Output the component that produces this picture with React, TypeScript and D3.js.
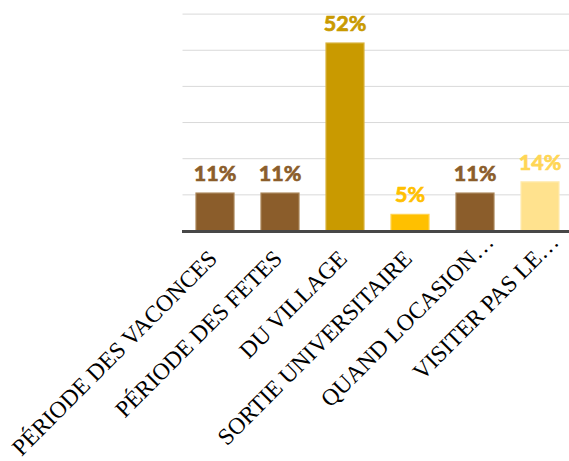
import React from "react";
import * as d3 from "d3";

const categories = [
  "PÉRIODE DES VACONCES",
  "PÉRIODE DES FETES",
  "DU VILLAGE",
  "SORTIE UNIVERSITAIRE",
  "QUAND LOCASION…",
  "VISITER PAS LE…",
];
const values = [0.105, 0.105, 0.52, 0.046, 0.105, 0.136];
const valueLabels = ["11%", "11%", "52%", "5%", "11%", "14%"];
const barColors = ["#8B5D2B", "#8B5D2B", "#C99A00", "#FFC000", "#8B5D2B", "#FFE28E"];
const barStrokes = ["#A98457", "#A98457", "#D9B33D", "#FFD34F", "#A98457", "#FFEBB0"];
const labelColors = ["#8B5D2B", "#8B5D2B", "#C99A00", "#FFC000", "#8B5D2B", "#FFD655"];
const yTicks = [0, 0.1, 0.2, 0.3, 0.4, 0.5, 0.6];

const W = 569;
const H = 461;

export default function App() {
  const x = d3
    .scaleBand<number>()
    .domain(d3.range(categories.length))
    .range([182.5, 572.5])
    .paddingInner(0.4)
    .paddingOuter(0.2);
  const y = d3.scaleLinear().domain([0, 0.6]).range([231, 14.1]);

  return (
    <svg
      width={W}
      height={H}
      style={{ position: "absolute", left: 0, top: 0, display: "block" }}
    >
      <rect x={0} y={0} width={W} height={H} fill="#ffffff" />
      {yTicks.slice(1).map((t) => (
        <line
          key={t}
          x1={182.5}
          x2={575}
          y1={y(t)}
          y2={y(t)}
          stroke="#D9D9D9"
          strokeWidth={1}
        />
      ))}
      {values.map((v, i) => (
        <rect
          key={i}
          x={x(i)! + 0.5}
          y={y(v)}
          width={x.bandwidth() - 1}
          height={y(0) - y(v)}
          fill={barColors[i]}
          stroke={barStrokes[i]}
          strokeWidth={1.2}
        />
      ))}
      <line
        x1={182}
        x2={575}
        y1={y(0) + 0.5}
        y2={y(0) + 0.5}
        stroke="#474747"
        strokeWidth={2.8}
      />
      {values.map((v, i) => (
        <text
          key={i}
          x={x(i)! + x.bandwidth() / 2}
          y={y(v) - 12}
          textAnchor="middle"
          fontFamily="Lato, 'Open Sans', sans-serif"
          fontWeight="bold"
          fontSize={21.5}
          fill={labelColors[i]}
          stroke={labelColors[i]}
          strokeWidth={0.7}
        >
          {valueLabels[i]}
        </text>
      ))}
      {categories.map((c, i) => {
        const cx = x(i)! + x.bandwidth() / 2 + 3.5;
        const cy = 260;
        const hasEllipsis = c.endsWith("…");
        const main = hasEllipsis ? c.slice(0, -1) : c;
        return (
          <g key={i} transform={`translate(${cx},${cy}) rotate(-45)`}>
            <text
              textAnchor="end"
              fontFamily="'Liberation Serif', 'Times New Roman', serif"
              fontSize={23.5}
              fill="#000"
            >
              {main}
            </text>
            {hasEllipsis && (
              <text
                textAnchor="start"
                fontFamily="'Liberation Serif', 'Times New Roman', serif"
                fontSize={23.5}
                fill="#000"
              >
                …
              </text>
            )}
          </g>
        );
      })}
    </svg>
  );
}
